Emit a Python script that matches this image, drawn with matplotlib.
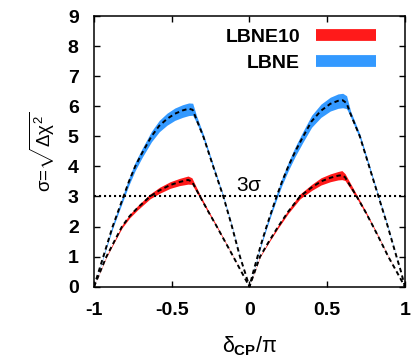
import matplotlib
matplotlib.use("Agg")
import matplotlib.pyplot as plt
from matplotlib.lines import Line2D

plt.rcParams['font.family'] = ['Liberation Sans', 'DejaVu Sans']
plt.rcParams['mathtext.fontset'] = 'custom'
plt.rcParams['mathtext.rm'] = 'Liberation Sans'
plt.rcParams['mathtext.it'] = 'Liberation Sans'
plt.rcParams['mathtext.bf'] = 'Liberation Sans:bold'

# ---- data ----
blue_x = [-1.0, -0.97, -0.94, -0.91, -0.88, -0.845, -0.81, -0.775, -0.735, -0.69, -0.63, -0.58, -0.53, -0.48,
          -0.43, -0.39, -0.365, -0.34, -0.297, -0.23, -0.168, -0.115, -0.061, -0.03, 0.0,
          0.025, 0.052, 0.08, 0.11, 0.142, 0.175, 0.21, 0.25, 0.295, 0.346, 0.4, 0.46, 0.52, 0.57, 0.6,
          0.625, 0.65, 0.71, 0.77, 0.83, 0.89, 0.946, 0.975, 1.0]
blue_c = [0.0, 0.5, 1.0, 1.5, 2.0, 2.5, 3.0, 3.5, 4.0, 4.45, 5.0, 5.35, 5.58, 5.75,
          5.86, 5.92, 5.88, 5.55, 5.0, 3.95, 3.0, 2.05, 1.0, 0.5, 0.0,
          0.5, 1.0, 1.5, 2.0, 2.5, 3.0, 3.5, 4.0, 4.5, 5.0, 5.5, 5.85, 6.08, 6.18, 6.2,
          6.1, 5.75, 5.0, 4.0, 3.0, 2.0, 1.0, 0.5, 0.0]
blue_lo = [0.0, 0.49, 0.97, 1.45, 1.93, 2.42, 2.9, 3.38, 3.86, 4.3, 4.82, 5.15, 5.37, 5.53,
           5.63, 5.69, 5.7, 5.45, 4.92, 3.89, 2.96, 2.02, 0.99, 0.5, 0.0,
           0.49, 0.97, 1.45, 1.93, 2.42, 2.9, 3.38, 3.86, 4.34, 4.82, 5.3, 5.63, 5.84, 5.93, 5.95,
           5.92, 5.65, 4.92, 3.94, 2.96, 1.97, 0.99, 0.5, 0.0]
blue_hi = [0.0, 0.51, 1.03, 1.55, 2.07, 2.58, 3.1, 3.62, 4.14, 4.6, 5.17, 5.53, 5.77, 5.94,
           6.05, 6.11, 6.1, 5.68, 5.08, 4.01, 3.04, 2.08, 1.01, 0.5, 0.0,
           0.51, 1.03, 1.55, 2.07, 2.58, 3.1, 3.62, 4.14, 4.66, 5.18, 5.7, 6.07, 6.3, 6.41, 6.43,
           6.35, 5.85, 5.08, 4.06, 3.04, 2.03, 1.01, 0.5, 0.0]

red_x = [-1.0, -0.96, -0.92, -0.87, -0.82, -0.77, -0.72, -0.64, -0.58, -0.51, -0.45, -0.395, -0.37,
         -0.318, -0.265, -0.21, -0.157, -0.104, -0.052, 0.0,
         0.034, 0.068, 0.125, 0.185, 0.25, 0.325, 0.4, 0.46, 0.52, 0.57, 0.595, 0.615,
         0.69, 0.745, 0.796, 0.845, 0.893, 0.947, 1.0]
red_c = [0.0, 0.5, 1.0, 1.5, 2.0, 2.35, 2.62, 3.0, 3.2, 3.38, 3.48, 3.55, 3.5,
         3.0, 2.5, 2.0, 1.5, 1.0, 0.5, 0.0,
         0.5, 1.0, 1.5, 2.0, 2.5, 3.0, 3.3, 3.5, 3.62, 3.69, 3.71, 3.64,
         3.0, 2.5, 2.0, 1.5, 1.0, 0.5, 0.0]
red_lo = [0.0, 0.49, 0.98, 1.47, 1.95, 2.29, 2.55, 2.92, 3.1, 3.27, 3.36, 3.41, 3.4,
          2.94, 2.46, 1.97, 1.48, 0.99, 0.5, 0.0,
          0.49, 0.98, 1.47, 1.95, 2.44, 2.92, 3.2, 3.38, 3.49, 3.55, 3.56, 3.53,
          2.94, 2.46, 1.97, 1.48, 0.99, 0.5, 0.0]
red_hi = [0.0, 0.51, 1.02, 1.53, 2.05, 2.41, 2.69, 3.08, 3.3, 3.49, 3.6, 3.68, 3.62,
          3.06, 2.54, 2.03, 1.52, 1.01, 0.5, 0.0,
          0.51, 1.02, 1.53, 2.05, 2.56, 3.08, 3.4, 3.62, 3.75, 3.83, 3.86, 3.76,
          3.06, 2.54, 2.03, 1.52, 1.01, 0.5, 0.0]

series_labels = ['LBNE10', 'LBNE']
series_colors = ['#ff1a1a', '#3399ff']
x_ticks = [-1, -0.5, 0, 0.5, 1]
x_ticklabels = ['-1', '-0.5', '0', '0.5', '1']
y_ticks = list(range(0, 10))
three_sigma = 3.0

fig = plt.figure(figsize=(4.14, 3.59), dpi=100)
ax = fig.add_axes([0.227, 0.2014, 0.751, 0.754])

ax.fill_between(blue_x, blue_lo, blue_hi, color=series_colors[1], lw=0)
ax.fill_between(red_x, red_lo, red_hi, color=series_colors[0], lw=0)
ax.plot(blue_x, blue_c, color='black', lw=1.4, ls=(0, (2.3, 1.7)))
ax.plot(red_x, red_c, color='black', lw=1.4, ls=(0, (2.3, 1.7)))

ax.axhline(three_sigma, color='black', lw=1.5, ls=(0, (1, 1.4)))
ax.text(0.0, three_sigma + 0.05, r'3$\sigma$', ha='center', va='bottom', fontsize=15)

ax.set_xlim(-1, 1)
ax.set_ylim(0, 9)
ax.set_xticks(x_ticks)
ax.set_xticklabels(x_ticklabels)
ax.set_yticks(y_ticks)
ax.tick_params(direction='in', length=4, width=1, top=True, right=True,
               labelsize=14, pad=11)
for lab in ax.get_xticklabels() + ax.get_yticklabels():
    lab.set_fontweight('bold')
for s in ax.spines.values():
    s.set_linewidth(1.1)

ax.set_xlabel(r'$\delta_{\mathbf{CP}}/\pi$', fontsize=15.5, labelpad=11)
ax.set_ylabel(r'$\sigma$=$\sqrt{\Delta\chi^{2}}$', fontsize=13.5, labelpad=8)

handles = [Line2D([0], [0], color=c, lw=8.5, solid_capstyle='butt') for c in series_colors]
leg = ax.legend(handles, series_labels, loc='upper right', bbox_to_anchor=(0.963, 1.02),
                frameon=False, markerfirst=False, handlelength=3.1, handletextpad=0.8,
                labelspacing=0.45, prop={'weight': 'bold', 'size': 14})

fig.savefig('out.png', dpi=100)
